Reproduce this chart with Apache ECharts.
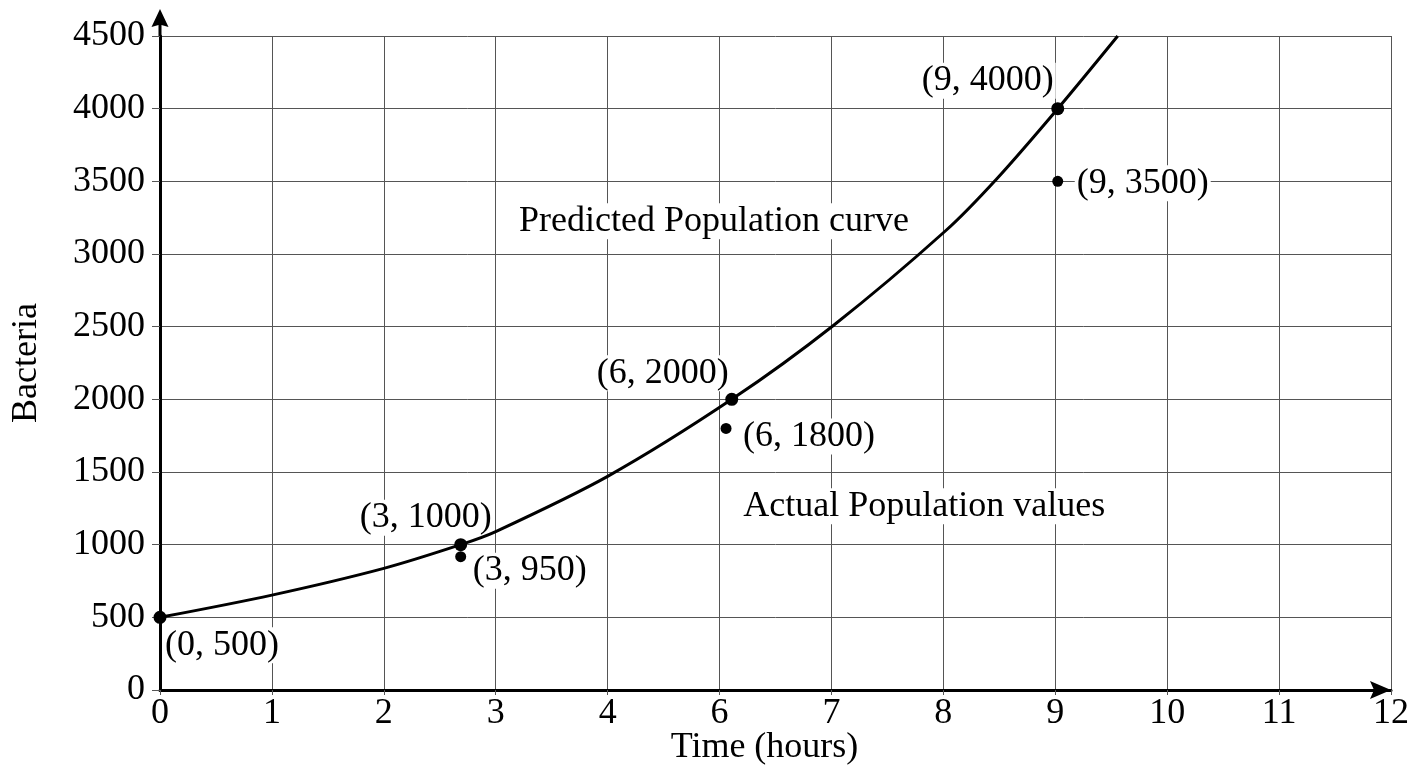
<!DOCTYPE html>
<html>
<head>
<meta charset="utf-8">
<title>Bacteria growth</title>
<script src="https://cdn.jsdelivr.net/npm/echarts@6/dist/echarts.min.js"></script>
<style>
    html, body { margin: 0; padding: 0; background: #fff; }
    #chart { width: 1408px; height: 768px; }
</style>
</head>
<body>
<div id="chart"></div>
<script>
// Tick labels on the time axis (the figure skips 5)
const xTickLabels = ['0', '1', '2', '3', '4', '6', '7', '8', '9', '10', '11', '12'];

// Predicted curve (x in grid steps, y in bacteria)
const curveX = [0, 1, 2, 2.687, 3, 4, 5.109, 6.02, 7.02, 7.48, 8.022, 8.558];
const curveY = [500, 653, 837, 1000, 1090, 1470, 2000, 2510, 3160, 3520, 4000, 4500];

// Predicted points
const predictedX = [0, 2.687, 5.109, 8.022];
const predictedY = [500, 1000, 2000, 4000];
const predictedText = ['(0, 500)', '(3, 1000)', '(6, 2000)', '(9, 4000)'];

// Actual points
const actualX = [2.687, 5.058, 8.022];
const actualY = [917, 1800, 3500];
const actualText = ['(3, 950)', '(6, 1800)', '(9, 3500)'];

// Captions
const captionX = [4.95, 6.83];
const captionY = [3226, 1265];
const captionText = ['Predicted Population curve', 'Actual Population values'];

document.addEventListener('DOMContentLoaded', function() {
    initializeChart();
});

const FONT = "'Liberation Serif', 'Times New Roman', serif";
const GRID_COLOR = '#555';

// label offsets from each dot, in pixels
const predictedLabelOffsets = [[62, 28], [-35, -27], [-69, -26], [-70, -28]];
const actualLabelOffsets = [[69, 14], [83, 8], [85, 2]];

function pointData(xs, ys, texts, offsets) {
    return xs.map((x, i) => ({
        value: [x, ys[i]],
        label: { formatter: texts[i], offset: offsets ? offsets[i] : [0, 0] }
    }));
}

function labelStyle() {
    return {
        show: true,
        position: 'inside',
        color: '#000',
        fontFamily: FONT,
        fontSize: 36,
        lineHeight: 36,
        textBorderWidth: 0,
        backgroundColor: '#fff',
        padding: [0, 2]
    };
}

function initializeChart() {
    const chart = echarts.init(document.getElementById('chart'));

    const option = {
        animation: false,
        backgroundColor: '#fff',
        grid: { left: 160, right: 17, top: 36, bottom: 78, outerBoundsMode: 'none', containLabel: false },
        xAxis: {
            type: 'value',
            min: 0,
            max: 11,
            interval: 1,
            name: 'Time (hours)',
            nameLocation: 'middle',
            nameGap: 40,
            nameMoveOverlap: false,
            nameTextStyle: {
                fontFamily: FONT, fontSize: 36, color: '#000',
                verticalAlign: 'top', padding: [0, 22, 0, 0]
            },
            axisLine: {
                show: true,
                onZero: false,
                symbol: ['none', 'path://M9,0 L18,21 L9,17 L0,21 Z'],
                symbolSize: [18, 21],
                symbolOffset: [0, -10.5],
                lineStyle: { color: '#000', width: 3 }
            },
            axisTick: { show: true, length: 5, lineStyle: { color: GRID_COLOR, width: 1 } },
            axisLabel: {
                formatter: v => xTickLabels[v] ?? '',
                margin: 6,
                fontFamily: FONT, fontSize: 36, color: '#000'
            },
            splitLine: { show: true, lineStyle: { color: GRID_COLOR, width: 1 } }
        },
        yAxis: {
            type: 'value',
            min: 0,
            max: 4500,
            interval: 500,
            name: 'Bacteria',
            nameLocation: 'middle',
            nameGap: 115,
            nameMoveOverlap: false,
            nameTextStyle: { fontFamily: FONT, fontSize: 36, color: '#000' },
            axisLine: {
                show: true,
                symbol: ['none', 'path://M8.5,0 L17,18 L10,16 L10,27 L7,27 L7,16 L0,18 Z'],
                symbolSize: [17, 27],
                symbolOffset: [0, 13.5],
                lineStyle: { color: '#000', width: 3 }
            },
            axisTick: { show: true, length: 8, lineStyle: { color: GRID_COLOR, width: 1 } },
            axisLabel: {
                formatter: v => String(v),
                margin: 15,
                fontFamily: FONT, fontSize: 36, color: '#000'
            },
            splitLine: { show: true, lineStyle: { color: GRID_COLOR, width: 1 } }
        },
        series: [
            {
                name: 'Predicted curve',
                type: 'line',
                smooth: 0.3,
                showSymbol: false,
                data: curveX.map((x, i) => [x, curveY[i]]),
                lineStyle: { color: '#000', width: 3 },
                z: 4
            },
            {
                name: 'Predicted',
                type: 'scatter',
                symbolSize: 13,
                itemStyle: { color: '#000', opacity: 1 },
                label: labelStyle(),
                data: pointData(predictedX, predictedY, predictedText, predictedLabelOffsets),
                z: 3
            },
            {
                name: 'Actual',
                type: 'scatter',
                symbolSize: 11,
                itemStyle: { color: '#000', opacity: 1 },
                label: labelStyle(),
                data: pointData(actualX, actualY, actualText, actualLabelOffsets),
                z: 3
            },
            {
                name: 'Captions',
                type: 'scatter',
                symbolSize: 0,
                itemStyle: { color: '#000', opacity: 1 },
                label: labelStyle(),
                data: pointData(captionX, captionY, captionText),
                z: 3
            }
        ]
    };

    chart.setOption(option);
    window.addEventListener('resize', function() {
        chart.resize();
    });
}
</script>
</body>
</html>
